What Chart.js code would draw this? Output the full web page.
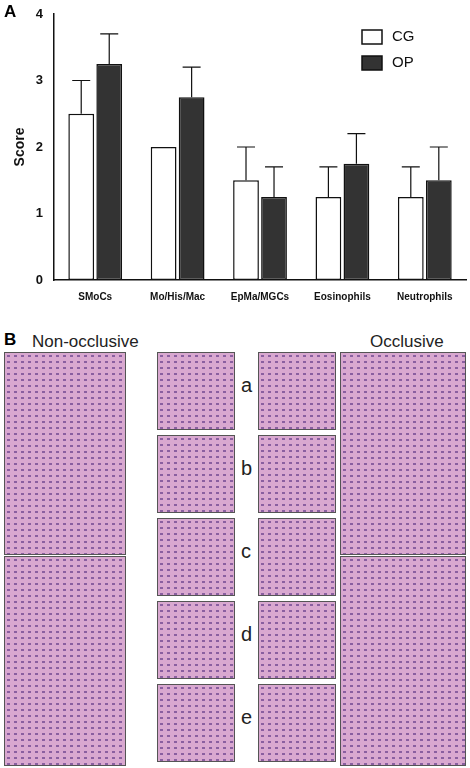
<!DOCTYPE html>
<html><head><meta charset="utf-8">
<script src="https://cdn.jsdelivr.net/npm/chart.js@4/dist/chart.umd.min.js"></script>
<style>
body{margin:0;width:470px;height:768px;background:#fff;font-family:"Liberation Sans",Arial,sans-serif;position:relative;overflow:hidden}
#wrap{position:absolute;left:0;top:0;width:470px;height:306px}
.lbl{position:absolute;font-weight:bold;font-size:17px}
.t{position:absolute;font-size:17px;color:#222}
.p{position:absolute;background:#d9a8d0;border:1px solid #555;box-sizing:border-box;background-image:radial-gradient(#8a5fa0 1.2px,transparent 1.6px);background-size:7px 6px}
.s{position:absolute;font-size:20px;color:#222}
</style></head><body>
<div id="wrap"><canvas id="c"></canvas></div>
<div class="lbl" style="left:4px;top:2px">A</div>
<div class="lbl" style="left:4px;top:330px">B</div>
<div class="t" style="left:32px;top:332px">Non-occlusive</div>
<div class="t" style="left:370px;top:332px">Occlusive</div>
<div id="panels"></div>
<script>
const categories = ['SMoCs', 'Mo/His/Mac', 'EpMa/MGCs', 'Eosinophils', 'Neutrophils'];
const cgValues = [2.5, 2.0, 1.5, 1.25, 1.25];
const cgErrors = [0.5, 0, 0.5, 0.45, 0.45];
const opValues = [3.25, 2.75, 1.25, 1.75, 1.5];
const opErrors = [0.45, 0.45, 0.45, 0.45, 0.5];

const errorBars = {
  id: 'errorBars',
  afterDatasetsDraw(chart) {
    const ctx = chart.ctx;
    const y = chart.scales.y;
    chart.data.datasets.forEach((ds, i) => {
      chart.getDatasetMeta(i).data.forEach((bar, j) => {
        const err = ds.errors[j];
        if (!err) return;
        const top = y.getPixelForValue(ds.data[j] + err);
        ctx.save();
        ctx.strokeStyle = '#111';
        ctx.lineWidth = 1.2;
        ctx.beginPath();
        ctx.moveTo(bar.x, bar.y);
        ctx.lineTo(bar.x, top);
        ctx.moveTo(bar.x - 9, top);
        ctx.lineTo(bar.x + 9, top);
        ctx.stroke();
        ctx.restore();
      });
    });
  },
  // legend inside the plot, top right
  afterDraw(chart) {
    const ctx = chart.ctx;
    chart.data.datasets.forEach((ds, i) => {
      const x = 362, y = 30 + i * 26;
      ctx.save();
      ctx.fillStyle = ds.backgroundColor;
      ctx.strokeStyle = '#111';
      ctx.lineWidth = 1.5;
      ctx.fillRect(x, y, 20, 14);
      ctx.strokeRect(x, y, 20, 14);
      ctx.fillStyle = '#111';
      ctx.font = '15px "Liberation Sans"';
      ctx.textBaseline = 'middle';
      ctx.fillText(ds.label, x + 30, y + 7);
      ctx.restore();
    });
  }
};

new Chart(document.getElementById('c'), {
  type: 'bar',
  data: {
    labels: categories,
    datasets: [
      { label: 'CG', data: cgValues, errors: cgErrors, backgroundColor: '#fff', borderColor: '#111', borderWidth: 1.5, borderSkipped: false },
      { label: 'OP', data: opValues, errors: opErrors, backgroundColor: '#333', borderColor: '#111', borderWidth: 1.5, borderSkipped: false }
    ]
  },
  options: {
    responsive: true, maintainAspectRatio: false, animation: false,
    layout: { padding: { left: 8, right: 4, top: 14, bottom: 0 } },
    datasets: { bar: { categoryPercentage: 0.68, barPercentage: 0.92 } },
    plugins: { legend: { display: false }, tooltip: { enabled: false } },
    scales: {
      x: {
        grid: { display: false },
        border: { color: '#111', width: 1.5 },
        ticks: { color: '#111', maxRotation: 0, autoSkip: false, font: { size: 10, weight: 'bold', family: 'Liberation Sans' } }
      },
      y: {
        min: 0, max: 4,
        grid: { display: false },
        border: { color: '#111', width: 1.5 },
        ticks: { stepSize: 1, color: '#111', font: { size: 13, weight: 'bold', family: 'Liberation Sans' } },
        title: { display: true, text: 'Score', color: '#111', font: { size: 14, weight: 'bold', family: 'Liberation Sans' } }
      }
    }
  },
  plugins: [errorBars]
});

// histology panel placeholders (part B)
const host = document.getElementById('panels');
function box(x, y, w, h, cls, txt) {
  const d = document.createElement('div');
  d.className = cls;
  d.style.left = x + 'px'; d.style.top = y + 'px';
  if (w) { d.style.width = w + 'px'; d.style.height = h + 'px'; }
  if (txt) d.textContent = txt;
  host.appendChild(d);
}
box(4, 352, 122, 203, 'p');
box(4, 556, 122, 210, 'p');
box(340, 352, 126, 203, 'p');
box(340, 556, 126, 210, 'p');
const letters = ['a', 'b', 'c', 'd', 'e'];
letters.forEach((l, i) => {
  const y = 352 + i * 83;
  box(157, y, 78, 78, 'p');
  box(258, y, 78, 78, 'p');
  box(241, y + 22, 0, 0, 's', l);
});
</script>
</body></html>
